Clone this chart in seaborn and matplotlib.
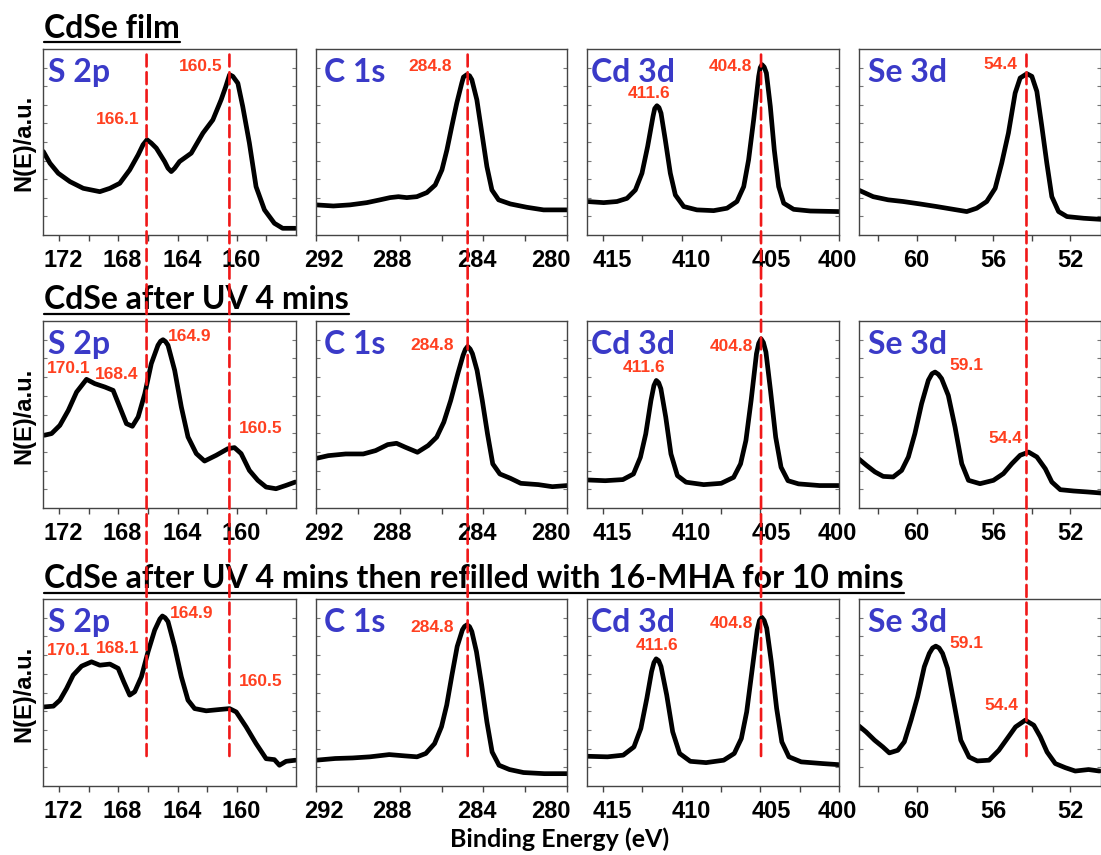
import numpy as np
import pandas as pd
import matplotlib
matplotlib.use("Agg")
import matplotlib.pyplot as plt
import seaborn as sns
from matplotlib.patches import ConnectionPatch
from matplotlib.lines import Line2D
from matplotlib.transforms import ScaledTranslation

# ---------------- data (binding energy in eV, intensity in a.u.) ----------------
row_titles = ["CdSe film", "CdSe after UV 4 mins",
              "CdSe after UV 4 mins then refilled with 16-MHA for 10 mins"]
core_levels = ["S 2p", "C 1s", "Cd 3d", "Se 3d"]

# Row 1 : CdSe film
s2p_film_E = [173.08, 172.63, 172.07, 171.28, 170.38, 169.26, 168.58, 167.91, 167.24, 166.67,
              166.34, 166.07, 165.78, 165.44, 164.88, 164.65, 164.43, 164.20, 163.87, 163.08,
              162.29, 161.62, 161.06, 160.76, 160.49, 160.27, 159.93, 159.60, 159.15, 158.70,
              158.13, 157.46, 156.90, 156.04]
s2p_film_I = [44.9, 38.6, 33.2, 28.7, 25.1, 23.3, 25.1, 27.8, 35.0, 43.1,
              48.5, 51.2, 49.4, 46.7, 39.5, 35.9, 34.1, 35.9, 39.5, 44.0,
              54.8, 61.9, 72.7, 79.5, 86.2, 85.3, 81.6, 69.1, 49.4, 26.0,
              13.5, 6.3, 3.6, 3.6]
c1s_film_E = [292.0, 291.17, 290.37, 289.57, 288.94, 288.46, 288.06, 287.66, 287.18, 286.70,
              286.30, 285.98, 285.74, 285.51, 285.27, 285.03, 284.95, 284.79, 284.66, 284.55,
              284.31, 284.07, 283.83, 283.59, 283.27, 282.71, 281.92, 281.12, 280.0]
c1s_film_I = [16.2, 15.6, 16.2, 17.4, 18.9, 20.1, 20.6, 20.1, 20.6, 22.8,
              26.9, 35.0, 45.8, 58.3, 70.9, 81.7, 84.9, 86.2, 85.6, 83.5,
              72.7, 54.8, 36.8, 24.2, 18.9, 16.7, 14.9, 13.5, 13.5]
cd3d_film_E = [416.0, 414.94, 414.10, 413.46, 412.93, 412.51, 412.15, 411.81, 411.70, 411.56,
               411.43, 411.30, 411.03, 410.71, 410.39, 409.86, 409.02, 407.96, 407.11, 406.48,
               406.05, 405.74, 405.42, 405.10, 405.00, 404.89, 404.75, 404.61, 404.36, 404.11,
               403.83, 403.51, 402.88, 401.82, 400.0]
cd3d_film_I = [18.0, 17.4, 18.0, 19.7, 24.2, 33.2, 47.6, 63.7, 68.0, 69.5,
               68.5, 65.5, 51.2, 33.2, 21.5, 15.3, 13.5, 13.1, 14.4, 18.0,
               26.0, 40.4, 61.9, 85.3, 90.0, 91.6, 90.3, 87.1, 69.1, 45.8,
               26.0, 17.1, 13.8, 12.9, 12.6]
se3d_film_E = [63.03, 62.26, 61.48, 60.70, 59.83, 58.96, 58.09, 57.39, 56.87, 56.35,
               55.91, 55.57, 55.22, 54.87, 54.61, 54.26, 54.00, 53.74, 53.48, 53.22,
               52.96, 52.61, 52.17, 51.30, 50.38]
se3d_film_I = [24.2, 20.6, 18.9, 18.0, 16.7, 15.3, 13.8, 12.6, 14.4, 18.0,
               25.1, 38.6, 54.8, 76.3, 84.4, 86.7, 85.3, 77.2, 58.3, 38.6,
               20.6, 12.6, 9.9, 9.0, 8.4]

# Row 2 : after UV 4 mins
s2p_uv_E = [173.01, 172.52, 171.96, 171.39, 170.83, 170.16, 169.60, 168.92, 168.36, 167.91,
            167.46, 167.06, 166.67, 166.22, 165.78, 165.33, 165.15, 164.99, 164.82, 164.65,
            164.20, 163.75, 163.30, 162.74, 162.18, 161.39, 160.61, 160.16, 159.71, 159.15,
            158.58, 158.02, 157.35, 156.67, 156.04]
s2p_uv_I = [38.9, 39.8, 44.2, 52.2, 62.0, 68.8, 66.5, 64.7, 62.9, 54.0,
            45.1, 43.7, 48.7, 61.1, 77.2, 87.0, 89.2, 90.0, 89.0, 87.0,
            73.6, 54.0, 38.0, 29.1, 25.1, 28.2, 31.7, 32.3, 29.1, 20.1,
            14.8, 11.2, 10.3, 12.1, 13.9]
c1s_uv_E = [292.08, 291.41, 290.58, 289.74, 289.15, 288.57, 288.15, 287.73, 287.15, 286.64,
            286.23, 285.89, 285.56, 285.22, 284.97, 284.86, 284.75, 284.63, 284.52, 284.30,
            284.05, 283.80, 283.55, 283.21, 282.71, 282.21, 281.37, 280.70, 280.0]
c1s_uv_I = [26.3, 28.0, 28.9, 28.9, 30.7, 33.9, 34.6, 32.5, 29.8, 33.4,
            37.9, 45.9, 57.5, 71.8, 81.6, 84.8, 86.4, 85.0, 82.5, 73.6,
            57.5, 39.6, 23.6, 18.2, 15.9, 13.2, 12.5, 11.4, 12.0]
cd3d_uv_E = [416.0, 414.84, 413.72, 413.05, 412.61, 412.27, 411.94, 411.75, 411.60, 411.45,
             411.31, 411.00, 410.67, 410.26, 409.71, 408.59, 407.48, 406.69, 406.25, 405.91,
             405.58, 405.24, 405.10, 404.95, 404.80, 404.64, 404.35, 404.02, 403.68, 403.24,
             402.57, 401.23, 400.0]
cd3d_uv_I = [15.0, 14.6, 15.2, 18.2, 27.1, 39.6, 57.5, 65.5, 68.2, 67.0,
             63.8, 48.6, 28.9, 17.3, 13.8, 12.5, 13.2, 16.4, 23.6, 36.1,
             57.5, 82.5, 88.0, 90.5, 88.5, 83.4, 62.9, 37.9, 21.8, 14.6,
             12.9, 12.0, 12.0]
se3d_uv_E = [63.03, 62.61, 62.17, 61.74, 61.22, 60.78, 60.43, 60.09, 59.74, 59.39,
             59.20, 59.04, 58.87, 58.70, 58.35, 58.00, 57.65, 57.30, 56.70, 56.00,
             55.48, 55.04, 54.61, 54.17, 53.74, 53.30, 52.96, 52.52, 51.83, 51.13, 50.38]
se3d_uv_I = [26.4, 22.8, 19.3, 16.9, 16.6, 20.1, 27.3, 39.8, 55.8, 68.3,
             71.8, 72.7, 71.5, 69.2, 60.2, 43.3, 23.7, 14.8, 13.0, 14.8,
             18.4, 23.7, 28.2, 29.9, 27.3, 21.0, 13.9, 9.8, 9.1, 8.6, 8.0]

# Row 3 : after UV then refilled with 16-MHA
s2p_mha_E = [173.01, 172.40, 171.96, 171.51, 171.06, 170.49, 169.82, 169.26, 168.58, 168.02,
             167.64, 167.24, 166.90, 166.45, 166.00, 165.55, 165.20, 165.03, 164.85, 164.65,
             164.20, 163.75, 163.30, 162.85, 162.07, 161.17, 160.49, 160.04, 159.37, 158.70,
             158.02, 157.46, 157.12, 156.67, 156.04]
s2p_mha_I = [42.3, 42.7, 45.9, 52.1, 59.3, 64.1, 66.4, 64.6, 65.2, 62.9,
             55.7, 48.6, 50.4, 58.4, 71.8, 83.4, 89.3, 90.9, 90.0, 87.9,
             74.5, 58.4, 45.9, 41.4, 40.2, 40.9, 41.4, 39.6, 31.6, 22.7,
             14.6, 14.1, 11.1, 13.2, 13.8]
c1s_mha_E = [292.0, 291.08, 290.25, 289.42, 288.50, 287.75, 287.17, 286.75, 286.33, 286.00,
             285.75, 285.50, 285.25, 285.00, 284.90, 284.78, 284.66, 284.55, 284.33, 284.08,
             283.83, 283.58, 283.25, 282.75, 282.08, 281.08, 280.0]
c1s_mha_I = [13.8, 14.7, 15.0, 15.6, 16.8, 16.1, 15.6, 17.4, 22.7, 31.7,
             43.3, 59.4, 74.6, 83.5, 85.3, 86.2, 85.2, 82.6, 71.9, 54.0,
             34.3, 18.2, 11.1, 8.8, 7.2, 6.6, 6.6]
cd3d_mha_E = [416.0, 414.70, 413.70, 413.02, 412.58, 412.20, 411.90, 411.75, 411.61, 411.45,
              411.30, 410.94, 410.56, 410.12, 409.44, 408.44, 407.32, 406.65, 406.20, 405.86,
              405.53, 405.19, 405.05, 404.90, 404.75, 404.59, 404.30, 403.96, 403.63, 403.18,
              402.40, 401.05, 400.0]
cd3d_mha_I = [15.9, 15.6, 16.5, 20.9, 30.8, 46.9, 61.2, 66.0, 68.0, 67.0,
              63.9, 48.7, 29.0, 17.4, 13.2, 12.5, 13.8, 17.4, 25.4, 39.7,
              61.2, 83.5, 88.5, 90.2, 88.5, 84.4, 66.5, 41.5, 23.6, 15.6,
              12.9, 12.0, 11.4]
se3d_mha_E = [63.00, 62.63, 62.19, 61.76, 61.42, 60.98, 60.64, 60.29, 59.95, 59.60,
              59.34, 59.17, 59.00, 58.83, 58.65, 58.39, 58.05, 57.70, 57.27, 56.84,
              56.23, 55.72, 55.28, 54.85, 54.34, 53.90, 53.56, 53.21, 52.78, 52.26,
              51.74, 51.05, 50.48]
se3d_mha_I = [32.1, 28.9, 24.5, 20.9, 17.7, 19.1, 23.6, 35.2, 47.7, 63.8,
              70.9, 73.8, 74.8, 73.8, 70.9, 62.9, 44.1, 24.5, 15.5, 13.4,
              13.8, 19.1, 25.4, 31.6, 35.2, 32.5, 26.3, 18.2, 12.0, 9.8,
              8.0, 8.8, 8.0]

# reference (dashed) binding energies per core level
guide_E = {"S 2p": [166.1, 160.5], "C 1s": [284.75], "Cd 3d": [404.95], "Se 3d": [54.28]}

# peak labels: (row, col, text)
peak_texts = [
    (0, 0, "166.1"), (0, 0, "160.5"), (0, 1, "284.8"), (0, 2, "411.6"), (0, 2, "404.8"), (0, 3, "54.4"),
    (1, 0, "170.1"), (1, 0, "168.4"), (1, 0, "164.9"), (1, 0, "160.5"), (1, 1, "284.8"),
    (1, 2, "411.6"), (1, 2, "404.8"), (1, 3, "59.1"), (1, 3, "54.4"),
    (2, 0, "170.1"), (2, 0, "168.1"), (2, 0, "164.9"), (2, 0, "160.5"), (2, 1, "284.8"),
    (2, 2, "411.6"), (2, 2, "404.8"), (2, 3, "59.1"), (2, 3, "54.4"),
]

curves = [
    [(s2p_film_E, s2p_film_I), (c1s_film_E, c1s_film_I), (cd3d_film_E, cd3d_film_I), (se3d_film_E, se3d_film_I)],
    [(s2p_uv_E, s2p_uv_I), (c1s_uv_E, c1s_uv_I), (cd3d_uv_E, cd3d_uv_I), (se3d_uv_E, se3d_uv_I)],
    [(s2p_mha_E, s2p_mha_I), (c1s_mha_E, c1s_mha_I), (cd3d_mha_E, cd3d_mha_I), (se3d_mha_E, se3d_mha_I)],
]

# ---------------- layout / styling ----------------
# label positions (x in eV, y in a.u., horizontal alignment), same order as peak_texts
peak_pos = [
    (166.6, 62.0, "right"), (160.94, 90.7, "right"), (285.5, 90.7, "right"), (412.04, 76.0, "center"),
    (405.52, 90.7, "right"), (54.78, 91.6, "right"),
    (171.39, 74.5, "center"), (168.09, 71.3, "center"), (164.65, 91.8, "left"), (159.87, 42.4, "left"),
    (285.39, 87.0, "right"), (412.38, 75.4, "center"), (405.47, 86.6, "right"), (58.30, 76.3, "left"),
    (54.52, 37.1, "right"),
    (171.35, 72.7, "center"), (168.07, 73.6, "center"), (164.54, 92.0, "left"), (159.87, 55.7, "left"),
    (285.42, 85.0, "right"), (411.57, 75.0, "center"), (405.48, 87.1, "right"), (58.27, 76.3, "left"),
    (54.68, 42.9, "right"),
]

xlims = [(173.1, 156.0), (292.0, 280.0), (416.0, 400.0), (63.0, 50.4)]
major = [[172, 168, 164, 160], [292, 288, 284, 280], [415, 410, 405, 400], [60, 56, 52]]
minor = [[170, 166, 162, 158], [290, 286, 282], [412.5, 407.5, 402.5], [62, 58, 54]]
# horizontal pixel shift of tick labels (as placed in the original)
label_shift = [[4, 4, 5, 4], [8, -8, -6, -16], [10, 10, 11, -2], [0, 0, 0]]

W, H = 1101, 855
col_px = [(43, 296), (316, 567), (587, 839), (859, 1101)]
row_px = [(49, 235), (321, 508), (599, 786)]
title_base = [38, 309, 588]
label_x = [0.02, 0.03, 0.016, 0.036]

sns.set_theme(style="ticks")
plt.rcParams["font.family"] = ["Liberation Sans", "DejaVu Sans"]
plt.rcParams["font.weight"] = "bold"
plt.rcParams["text.color"] = "black"
plt.rcParams["xtick.labelcolor"] = "black"
plt.rcParams["axes.labelcolor"] = "black"

RED = "#ff4020"
LINE_RED = "#f01818"
BLUE = "#3a3ac8"
TITLE_FONT = ["Lato", "DejaVu Sans"]

fig = plt.figure(figsize=(W / 100, H / 100), dpi=100)
axes = [[None] * 4 for _ in range(3)]
for r in range(3):
    t, b = row_px[r]
    for c in range(4):
        l, rr = col_px[c]
        ax = fig.add_axes([l / W, 1 - b / H, (rr - l) / W, (b - t) / H])
        axes[r][c] = ax
        E, I = curves[r][c]
        df = pd.DataFrame({"E": E, "I": I})
        sns.lineplot(data=df, x="E", y="I", ax=ax, color="black", lw=3.4,
                     estimator=None, sort=False)
        ax.set_xlim(*xlims[c])
        ax.set_ylim(0, 100)
        ax.set_xticks(major[c])
        ax.set_xticks(minor[c], minor=True)
        ax.set_xticklabels([str(v) for v in major[c]], fontweight="bold", fontsize=17,
                           color="black")
        ax.set_yticks(np.arange(10, 100, 10))
        ax.set_yticklabels([])
        ax.tick_params(axis="x", which="both", direction="out", length=4, width=1,
                       color="#444444", pad=6)
        ax.tick_params(axis="y", which="both", direction="in", length=3, width=0.8,
                       color="#777777", left=True, right=True)
        ax.set_xlabel("")
        ax.set_ylabel("")
        for s in ax.spines.values():
            s.set_color("#444444")
            s.set_linewidth(1.0)
        ax.text(label_x[c], 0.825, core_levels[c], transform=ax.transAxes,
                fontsize=23, fontweight="bold", color=BLUE, family=TITLE_FONT,
                ha="left", va="baseline")

for (r, c, txt), (x, y, ha) in zip(peak_texts, peak_pos):
    axes[r][c].text(x, y, txt, color=RED, fontsize=12.5, fontweight="bold",
                    ha=ha, va="center")

# dashed guide lines spanning from the top row to the bottom row
for c, core in enumerate(core_levels):
    for e in guide_E[core]:
        con = ConnectionPatch(xyA=(e, 97), coordsA=axes[0][c].transData,
                              xyB=(e, 14), coordsB=axes[2][c].transData,
                              color=LINE_RED, lw=1.9, linestyle=(0, (4.5, 2.2)), zorder=10)
        fig.add_artist(con)

fig.canvas.draw()
renderer = fig.canvas.get_renderer()

# shift tick labels like the original layout
for r in range(3):
    for c in range(4):
        ticks = axes[r][c].xaxis.get_major_ticks()
        for tk, dx in zip(ticks, label_shift[c]):
            tk.label1.set_transform(tk.label1.get_transform() +
                                    ScaledTranslation(dx / 100, 0, fig.dpi_scale_trans))

# row titles with underline
for r in range(3):
    tx = fig.text(44 / W, 1 - title_base[r] / H, row_titles[r], fontsize=23,
                  fontweight="bold", family=TITLE_FONT, ha="left", va="baseline", color="black")
    bb = tx.get_window_extent(renderer=renderer)
    yline = 1 - (title_base[r] + 4.5) / H
    fig.add_artist(Line2D([bb.x0 / W, bb.x1 / W], [yline, yline], color="black", lw=1.6,
                          transform=fig.transFigure))

# y labels
for r in range(3):
    t, b = row_px[r]
    fig.text(24 / W, 1 - ((t + b) / 2 + 1) / H, "N(E)/a.u.", rotation=90, fontsize=17,
             fontweight="bold", ha="center", va="center", color="black")

fig.text(560 / W, 1 - 847 / H, "Binding Energy (eV)", fontsize=18, fontweight="bold",
         family=TITLE_FONT, ha="center", va="baseline", color="black")

fig.savefig("out.png", dpi=100)
